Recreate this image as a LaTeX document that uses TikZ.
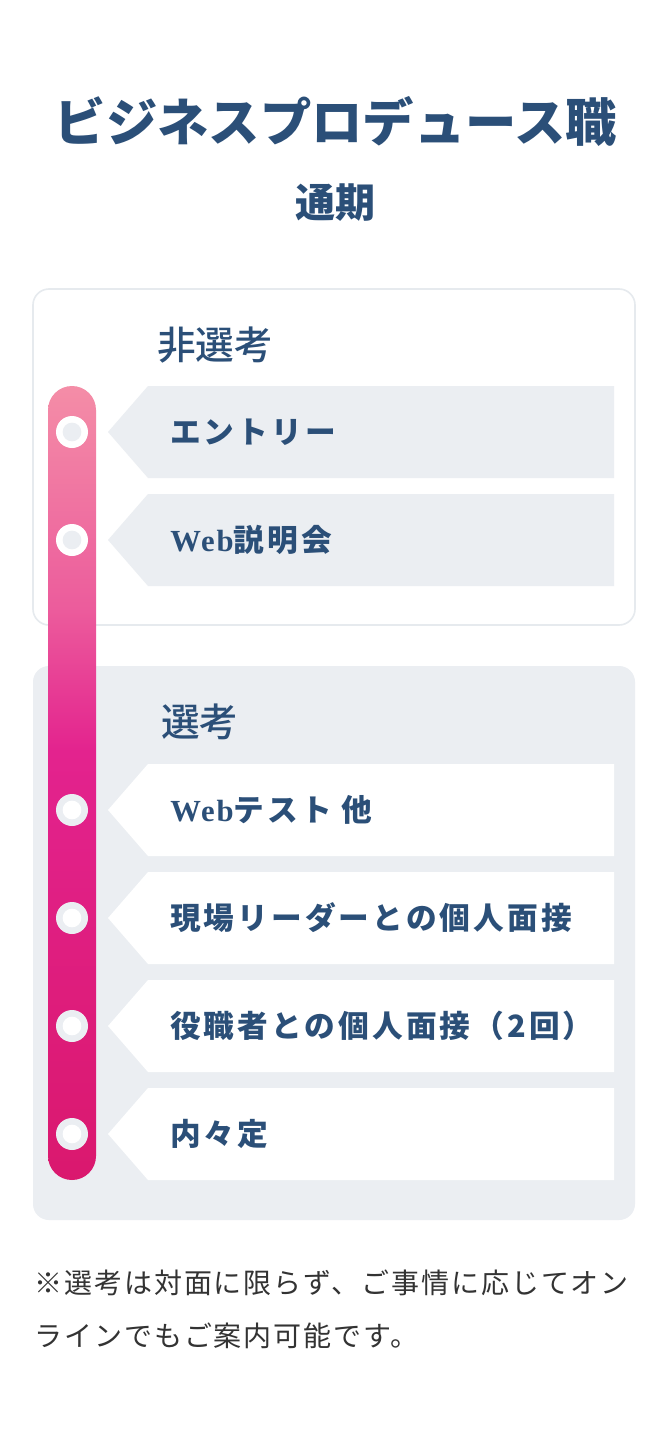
\documentclass[tikz,border=0pt]{standalone}
\usepackage{fontspec}
\setmainfont{Noto Sans CJK JP}
\newfontfamily\jpmed{Noto Sans CJK JP Medium}
\newfontfamily\stepfont{Noto Sans CJK JP}[LetterSpace=10]
\newfontfamily\webfont{Liberation Serif}[LetterSpace=6]
\newfontfamily\notefont{Noto Sans CJK JP}[LetterSpace=7]
\definecolor{navy}{HTML}{2B4F78}
\definecolor{panel}{HTML}{EBEEF2}
\definecolor{edge}{HTML}{E6EAEE}
\definecolor{notegray}{HTML}{333333}
\definecolor{bartop}{HTML}{F48DA7}
\definecolor{barpink}{HTML}{EC5C9C}
\definecolor{barmid}{HTML}{E3238E}
\definecolor{barbot}{HTML}{DA186E}
\pgfdeclareverticalshading{bargrad}{100bp}{color(0bp)=(barbot); color(25bp)=(barbot);
  color(52bp)=(barmid); color(61bp)=(barpink); color(75bp)=(bartop); color(100bp)=(bartop)}
\newcommand{\web}{{\webfont\bfseries Web}}
\begin{document}
\begin{tikzpicture}[x=0.75pt,y=-0.75pt,
        steptext/.style={anchor=west,inner sep=0pt,text=navy,
          font=\stepfont\bfseries\fontsize{23pt}{23pt}\selectfont},
        steparrow/.style={fill=#1},
        section/.style={anchor=west,inner sep=0pt,text=navy,
          font=\jpmed\fontsize{29pt}{29pt}\selectfont},
        dotring/.style={circle,fill=#1,minimum size=24pt,inner sep=0pt}]
        \useasboundingbox[fill=white] (0,0) rectangle (670,1434);
        % heading
        \node[text=navy,font=\bfseries\fontsize{38.5pt}{38.5pt}\selectfont] (title) at (336,121) {ビジネスプロデュース職};
        \node[text=navy,font=\bfseries\fontsize{30pt}{30pt}\selectfont] (period) at (335,203) {通期};
        % panels
        \draw[edge,fill=white,line width=1.2pt,rounded corners=12pt] (33,289) rectangle (635,625);
        \fill[panel,rounded corners=12pt] (33,666) rectangle (635,1220);
        \node[section] (nonsel) at (157,345) {非選考};
        \node[section] (sel) at (161,722) {選考};
        % steps
        \foreach \y/\c [count=\i] in {432/panel,540/panel,810/white,918/white,1026/white,1134/white}
          \fill[steparrow=\c] (108,\y) -- (148,\y-46) -- (614,\y-46) -- (614,\y+46) -- (148,\y+46) -- cycle;
        \node[steptext] (entry) at (170,432) {エントリー};
        \node[steptext] (briefing) at (170,540) {\web 説明会};
        \node[steptext] (test) at (170,810) {\web テスト 他};
        \node[steptext] (leader) at (170,918) {現場リーダーとの個人面接};
        \node[steptext] (manager) at (170,1026) {役職者との個人面接（2回）};
        \node[steptext] (offer) at (170,1134) {内々定};
        % timeline bar
        \shade[shading=bargrad,rounded corners=18pt] (48,386) rectangle (96,1180);
        \foreach \y/\a/\b [count=\i] in {432/white/panel,540/white/panel,810/panel/white,918/panel/white,1026/panel/white,1134/panel/white}{
          \node[dotring=\a] (ring\i) at (72,\y) {};
          \node[dotring=\b,minimum size=14pt] (hole\i) at (72,\y) {};
        }
        % note
        \node[anchor=west,inner sep=0pt,text=notegray,font=\notefont\fontsize{21pt}{21pt}\selectfont] (note1) at (34,1283) {※選考は対面に限らず、ご事情に応じてオン};
        \node[anchor=west,inner sep=0pt,text=notegray,font=\notefont\fontsize{21pt}{21pt}\selectfont] (note2) at (34,1336) {ラインでもご案内可能です。};
      \end{tikzpicture}
\end{document}
